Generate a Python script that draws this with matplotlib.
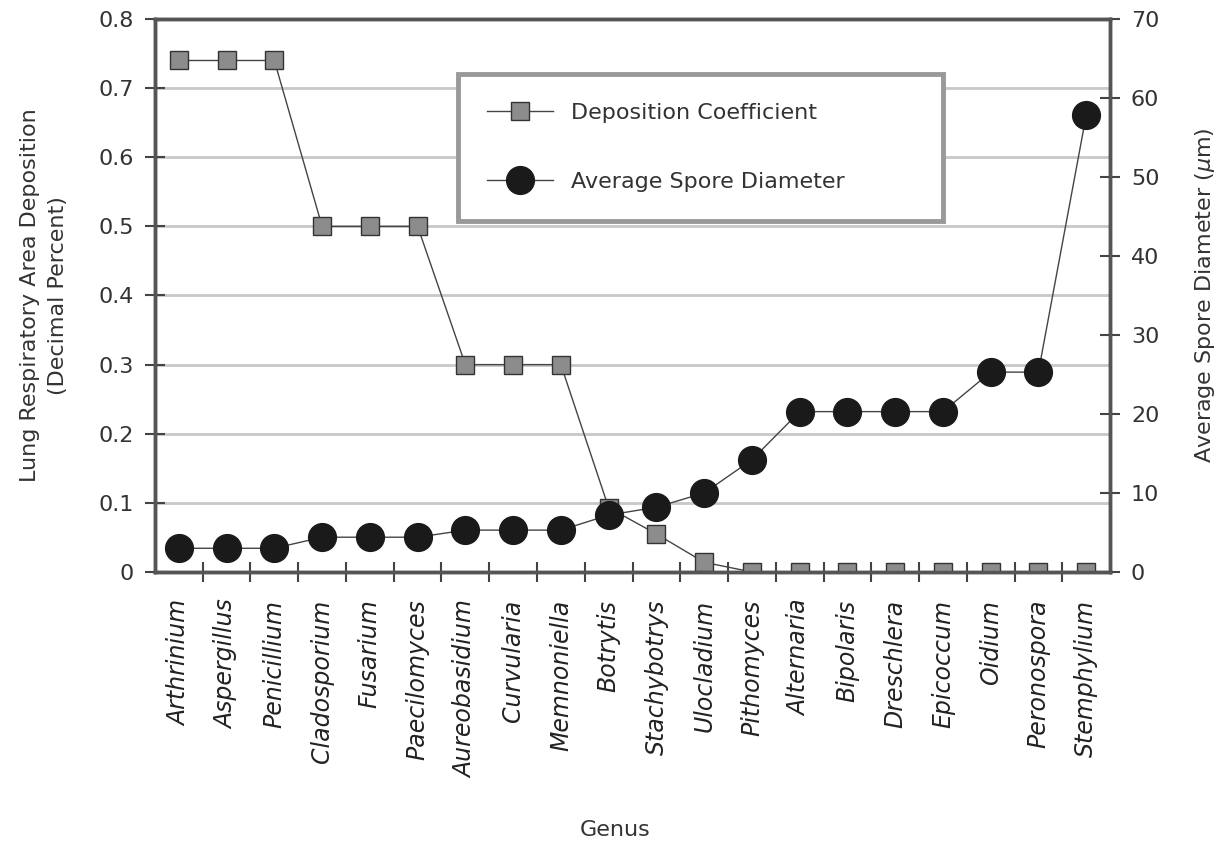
import matplotlib
matplotlib.use('Agg')
from matplotlib import pyplot as plt
from matplotlib.ticker import FixedLocator

genus = ['Arthrinium', 'Aspergillus', 'Penicillium', 'Cladosporium', 'Fusarium',
         'Paecilomyces', 'Aureobasidium', 'Curvularia', 'Memnoniella', 'Botrytis',
         'Stachybotrys', 'Ulocladium', 'Pithomyces', 'Alternaria', 'Bipolaris',
         'Dreschlera', 'Epicoccum', 'Oidium', 'Peronospora', 'Stemphylium']
deposition = [0.74, 0.74, 0.74, 0.5, 0.5, 0.5, 0.3, 0.3, 0.3, 0.093,
              0.055, 0.014, 0, 0, 0, 0, 0, 0, 0, 0]
diameter = [3.0, 3.0, 3.0, 4.4, 4.4, 4.4, 5.3, 5.3, 5.3, 7.2,
            8.2, 10.0, 14.2, 20.3, 20.3, 20.3, 20.3, 25.3, 25.3, 57.8]

plt.rcParams['font.family'] = ['DejaVu Sans']
fig = plt.figure(figsize=(12.24, 8.42), dpi=100)
ax = fig.add_axes([0.1266, 0.3207, 0.7803, 0.6567])
x = list(range(len(genus)))

ax.set_xlim(-0.5, len(genus) - 0.5)
ax.set_ylim(0, 0.8)
ax.set_yticks([i / 10 for i in range(9)])
ax.set_yticklabels(['0'] + ['%.1f' % (i / 10) for i in range(1, 9)])
for v in [i / 10 for i in range(1, 8)]:
    ax.axhline(v, color='#c8c8c8', lw=2, zorder=0)

l1, = ax.plot(x, deposition, color='#444444', lw=1, marker='s', ms=13,
              mfc='#8c8c8c', mec='#333333', mew=1, zorder=3,
              label='Deposition Coefficient')

ax2 = ax.twinx()
ax2.set_ylim(0, 70)
ax2.set_yticks(range(0, 71, 10))
l2, = ax2.plot(x, diameter, color='#444444', lw=1, marker='o', ms=20,
               mfc='#1a1a1a', mec='#1a1a1a', zorder=4,
               label='Average Spore Diameter')

ax.set_xticks(x)
ax.set_xticklabels(genus, rotation=90, style='italic', fontsize=17, va='top',
                   color='#222222')
ax.tick_params(axis='x', which='major', length=0, pad=20)
ax.xaxis.set_minor_locator(FixedLocator([i + 0.5 for i in range(len(genus) - 1)]))
ax.tick_params(axis='x', which='minor', length=14, width=1.5, direction='inout',
               color='#444444')
ax.tick_params(axis='y', length=14, width=1.5, direction='inout', color='#444444',
               labelsize=16, pad=8, labelcolor='#333333')
ax2.tick_params(axis='y', length=14, width=1.5, direction='inout', color='#444444',
                labelsize=16, pad=8, labelcolor='#333333')

for a in (ax, ax2):
    for s in a.spines.values():
        s.set_color('#555555')
        s.set_linewidth(2.5)

ax.set_ylabel('Lung Respiratory Area Deposition\n(Decimal Percent)', fontsize=16,
              color='#333333', labelpad=22, linespacing=1.5)
ax2.set_ylabel('Average Spore Diameter ($\\mu$m)', fontsize=16, color='#333333',
               labelpad=24)
fig.text(615 / 1224, 1 - 830 / 842, 'Genus', fontsize=16, color='#333333',
         ha='center', va='center')

leg = ax.legend(handles=[l1, l2], loc='upper left',
                bbox_to_anchor=(0.317, 0.9, 0.508, 0.0), mode='expand',
                borderaxespad=0, fontsize=16, labelspacing=2.2, borderpad=1.3,
                handlelength=3, fancybox=False, framealpha=1)
leg.get_frame().set_edgecolor('#999999')
leg.get_frame().set_linewidth(3.5)
for t in leg.get_texts():
    t.set_color('#333333')
leg.set_zorder(10)

fig.savefig('out.png', dpi=100)
